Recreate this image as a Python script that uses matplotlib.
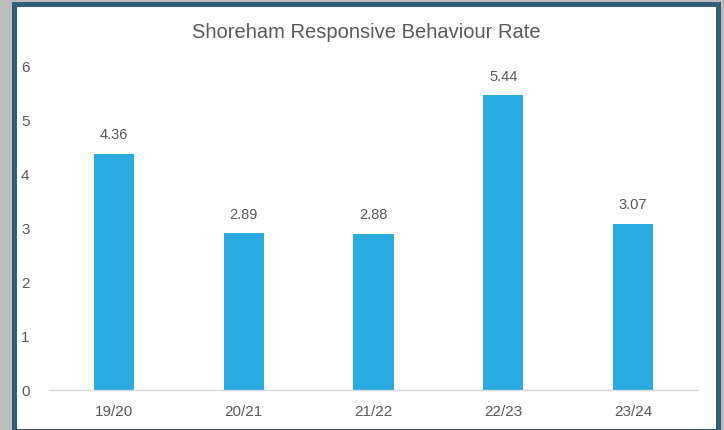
import matplotlib
matplotlib.use("Agg")
import matplotlib.pyplot as plt
from matplotlib.patches import Rectangle

# chart data
years = ["19/20", "20/21", "21/22", "22/23", "23/24"]
rates = [4.36, 2.89, 2.88, 5.44, 3.07]
y_ticks = [0, 1, 2, 3, 4, 5, 6]

BAR_COLOR = "#29abe2"
TEXT_COLOR = "#595959"
FRAME_COLOR = "#2f6079"

plt.rcParams["font.family"] = ["Liberation Sans", "DejaVu Sans"]

W, H = 724, 431
fig = plt.figure(figsize=(W / 100, H / 100), dpi=100)
fig.patch.set_facecolor("#bdbdbd")

# white card with teal frame
fig.add_artist(Rectangle((13.5 / W, 1 - 432 / H), (718 - 13.5) / W, (432 - 5) / H,
                         transform=fig.transFigure, facecolor="white",
                         edgecolor=FRAME_COLOR, linewidth=3.6, zorder=0))

ax = fig.add_axes([49 / W, 1 - 391 / H, (698 - 49) / W, (391 - 66) / H])
ax.set_facecolor("none")

x = range(len(years))
bars = ax.bar(x, rates, width=0.31, color=BAR_COLOR)

for xi, v in zip(x, rates):
    ax.annotate(f"{v:.2f}", (xi, v), xytext=(0, 9), textcoords="offset points",
                ha="center", va="bottom", fontsize=10.5, color=TEXT_COLOR)

ax.set_xlim(-0.5, len(years) - 0.5)
ax.set_ylim(0, 6)
ax.set_yticks(y_ticks)
ax.set_xticks(list(x))
ax.set_xticklabels(years)
ax.tick_params(axis="both", length=0, labelsize=11, colors=TEXT_COLOR)
ax.tick_params(axis="y", pad=14)
ax.tick_params(axis="x", pad=10)
for side in ["top", "right", "left"]:
    ax.spines[side].set_visible(False)
ax.spines["bottom"].set_color("#d9d9d9")
ax.spines["bottom"].set_linewidth(1)

fig.text(366 / W, 1 - 33 / H, "Shoreham Responsive Behaviour Rate",
         ha="center", va="center", fontsize=14.5, color=TEXT_COLOR)

fig.savefig("out.png", dpi=100)
